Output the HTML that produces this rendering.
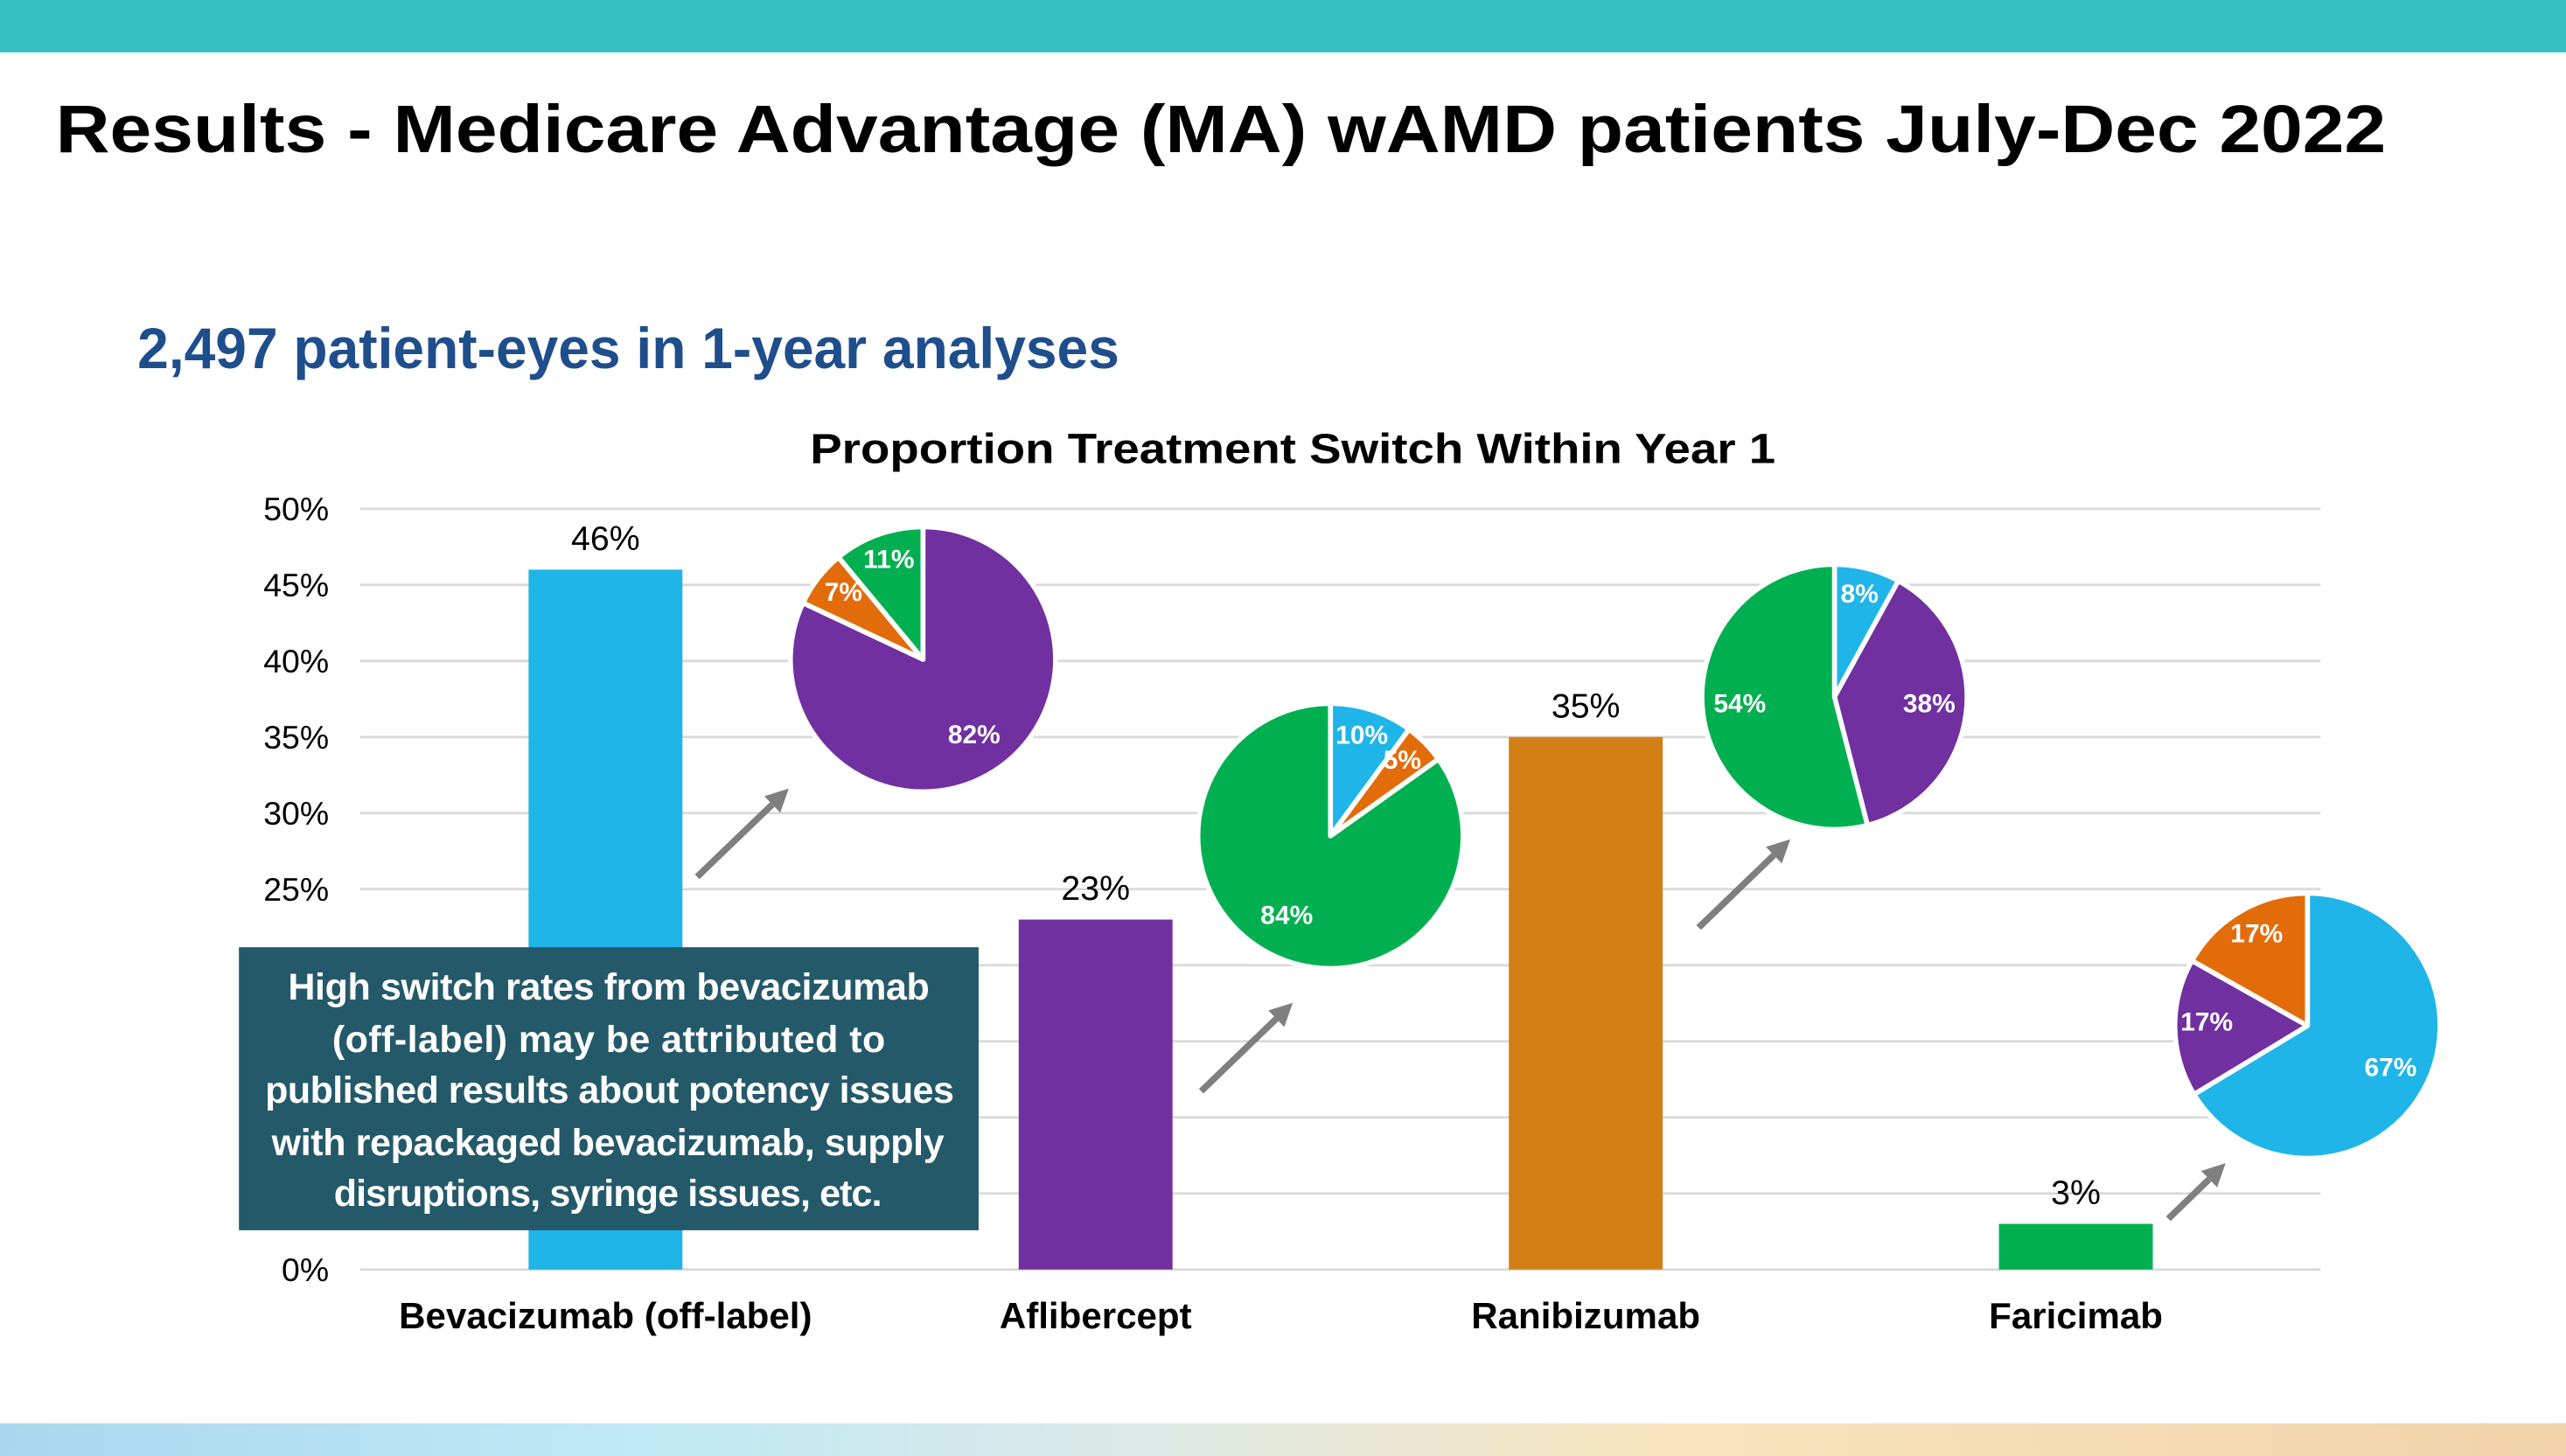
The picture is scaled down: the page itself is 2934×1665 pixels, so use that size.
<!DOCTYPE html>
<html><head><meta charset="utf-8">
<style>
html,body{margin:0;padding:0;background:#fff;}
svg{display:block;}
text{font-family:"Liberation Sans",sans-serif;}
.nar{font-family:"Liberation Sans Narrow","Liberation Sans",sans-serif;font-weight:bold;}
</style></head>
<body>
<svg id="slide" width="2934" height="1665" viewBox="0 0 1568 890" preserveAspectRatio="none" xmlns="http://www.w3.org/2000/svg">
<defs>
<linearGradient id="bg" x1="0" x2="1" y1="0" y2="0">
<stop offset="0" stop-color="#a9d8ee"/><stop offset="0.25" stop-color="#bfe9f5"/><stop offset="0.45" stop-color="#dde9e6"/><stop offset="0.65" stop-color="#f8e4bd"/><stop offset="1" stop-color="#f0d3a9"/>
</linearGradient>
</defs>
<rect x="0" y="0" width="1568" height="32" fill="#35bfc1"/>
<rect x="0" y="870" width="1568" height="20" fill="url(#bg)"/>
<text x="34" y="93" font-size="41" font-weight="bold" fill="#000" textLength="1424" lengthAdjust="spacingAndGlyphs">Results - Medicare Advantage (MA) wAMD patients July-Dec 2022</text>
<text class="nar" x="84" y="225" font-size="35" fill="#1f4e8c" textLength="600" lengthAdjust="spacingAndGlyphs">2,497 patient-eyes in 1-year analyses</text>
<text x="495" y="283" font-size="26" font-weight="bold" fill="#000" textLength="590" lengthAdjust="spacingAndGlyphs">Proportion Treatment Switch Within Year 1</text>
<g id="grid"></g>
<g id="bars"></g>
<g id="pies"></g>
<g id="arrows" stroke="#7f7f7f" stroke-width="4" fill="#7f7f7f"></g>
<g>
<rect x="146" y="579" width="452" height="173" fill="#245969"/>
<text class="nar" font-size="23" fill="#fff" lengthAdjust="spacingAndGlyphs">
<tspan x="176" y="611" textLength="392">High switch rates from bevacizumab</tspan>
<tspan x="203" y="643" textLength="338">(off-label) may be attributed to</tspan>
<tspan x="162" y="674" textLength="421">published results about potency issues</tspan>
<tspan x="166" y="706" textLength="411">with repackaged bevacizumab, supply</tspan>
<tspan x="204" y="737" textLength="335">disruptions, syringe issues, etc.</tspan>
</text>
</g>
</svg>
<script>
const categories = ["Bevacizumab (off-label)", "Aflibercept", "Ranibizumab", "Faricimab"];
const switchRates = [46, 23, 35, 3];
const barColors = ["#1fb5e8", "#7030a0", "#d27f16", "#00b050"];
const yTicks = [0, 5, 10, 15, 20, 25, 30, 35, 40, 45, 50];
const pie0Values = [82, 7, 11];
const pie1Values = [10, 5, 84];
const pie2Values = [8, 38, 54];
const pie3Values = [67, 17, 17];
const pie0Colors = ["#7030a0", "#e36c0a", "#00b050"];
const pie1Colors = ["#1fb5e8", "#e36c0a", "#00b050"];
const pie2Colors = ["#1fb5e8", "#7030a0", "#00b050"];
const pie3Colors = ["#1fb5e8", "#7030a0", "#e36c0a"];

const NS = "http://www.w3.org/2000/svg";
function mk(tag, attrs, parent){const e=document.createElementNS(NS,tag);for(const k in attrs)e.setAttribute(k,attrs[k]);parent.appendChild(e);return e;}
const y0=776, y50=311, xL=220, xR=1418;
function yS(v){return y0-(v/50)*(y0-y50);}
function xS(i){return 370+i*299.5;}

const grid=document.getElementById('grid');
yTicks.forEach(t=>{
  const l=mk('line',{x1:xL,x2:xR,y1:yS(t),y2:yS(t),stroke:'#d9d9d9','stroke-width':1.5},grid);
  
  
  const tx=mk('text',{x:201,y:yS(t)+7,'font-size':20,'text-anchor':'end',fill:'#000'},grid);
  tx.textContent=t+'%';
  
  
});
const bars=document.getElementById('bars');
categories.forEach((c,i)=>{
  const v=switchRates[i];
  const r=mk('rect',{x:xS(i)-47,y:yS(v),width:94,height:y0-yS(v),fill:barColors[i]},bars);
  
  
  const vl=mk('text',{x:xS(i),y:yS(v)-12,'font-size':21,'text-anchor':'middle',fill:'#000'},bars);
  vl.textContent=v+'%';
  
  
  const cl=mk('text',{x:xS(i),y:812,'font-size':22.5,'font-weight':'bold','text-anchor':'middle',fill:'#000'},bars);
  cl.textContent=c;
  
  
});

const pies=document.getElementById('pies');
const pieCenters=[[564,403],[813,511],[1121,426],[1410,627]];
const pieVals=[pie0Values,pie1Values,pie2Values,pie3Values];
const pieCols=[pie0Colors,pie1Colors,pie2Colors,pie3Colors];
const R=81;
pieVals.forEach((vals,p)=>{
  const [cx,cy]=pieCenters[p];
  const tot=vals.reduce((a,b)=>a+b,0);
  let acc=0;
  const g=mk('g',{},pies);
  
  
  vals.forEach((v,i)=>{
    const a0=acc/tot*2*Math.PI, a1=(acc+v)/tot*2*Math.PI; acc+=v;
    const x0=cx+R*Math.sin(a0), yA=cy-R*Math.cos(a0), x1=cx+R*Math.sin(a1), y1=cy-R*Math.cos(a1);
    const large=(a1-a0)>Math.PI?1:0;
    const path=mk('path',{d:`M${cx},${cy}L${x0},${yA}A${R},${R} 0 ${large} 1 ${x1},${y1}Z`,fill:pieCols[p][i],stroke:'#fff','stroke-width':3,'stroke-linejoin':'round'},g);
    
    
    const am=(a0+a1)/2, rr=(v/tot)>0.3?0.72*R:0.76*R;
    const t=mk('text',{x:cx+rr*Math.sin(am),y:cy-rr*Math.cos(am)+2,'font-size':16,'text-anchor':'middle',fill:'#fff',class:'nar'},g);
    t.textContent=v+'%';
    
    
  });
});

const arrows=document.getElementById('arrows');
[[426,536,482,482],[734,667,790,613],[1038,567,1094,513],[1325,745,1360,711]].forEach(a=>{
  const [x1,y1,x2,y2]=a;
  const ang=Math.atan2(y2-y1,x2-x1);
  const bx=x2-14*Math.cos(ang), by=y2-14*Math.sin(ang);
  const g=mk('g',{},arrows);
  
  
  mk('line',{x1:x1,y1:y1,x2:bx,y2:by},g);
  const px=-Math.sin(ang)*7, py=Math.cos(ang)*7;
  mk('polygon',{points:`${x2},${y2} ${bx+px},${by+py} ${bx-px},${by-py}`,stroke:'none'},g);
});
</script>
</body></html>
